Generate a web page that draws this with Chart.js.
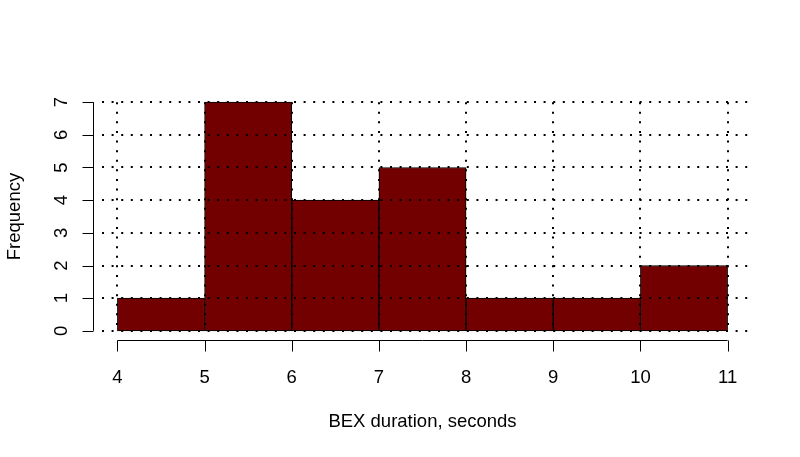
<!DOCTYPE html>
<html>
<head>
    <title>BEX duration histogram</title>
    <script src="https://cdn.jsdelivr.net/npm/chart.js"></script>
    <style>
        body { margin: 0; background: #fff; }
    </style>
</head>
<body>
<canvas id="chart" width="800" height="457"></canvas>
<script>
    // histogram bins (seconds) and counts
    var binStarts = [4, 5, 6, 7, 8, 9, 10];
    var binWidth = 1;
    var counts = [1, 7, 4, 5, 1, 1, 2];
    var xTicks = [4, 5, 6, 7, 8, 9, 10, 11];
    var yTicks = [0, 1, 2, 3, 4, 5, 6, 7];
    var xTitle = 'BEX duration, seconds';
    var yTitle = 'Frequency';

    var FONT = '18.5px "Liberation Sans", Arial, Helvetica, sans-serif';

    function dotted(ctx) {
        ctx.strokeStyle = '#000';
        ctx.lineWidth = 2;
        ctx.lineCap = 'butt';
        ctx.setLineDash([2, 7.6]);
    }

    // R style grid drawn on top of the bars, axes detached from the plot region
    var rAxes = {
        id: 'rAxes',
        afterDatasetsDraw: function(chart) {
            var ctx = chart.ctx, xs = chart.scales.x, ys = chart.scales.y, a = chart.chartArea;
            ctx.save();
            dotted(ctx);
            yTicks.forEach(function(v) {
                var y = Math.round(ys.getPixelForValue(v));
                ctx.beginPath(); ctx.moveTo(a.left + 9, y); ctx.lineTo(a.right, y); ctx.stroke();
            });
            xTicks.forEach(function(v) {
                var x = Math.round(xs.getPixelForValue(v));
                ctx.beginPath();
                ctx.moveTo(x, ys.getPixelForValue(yTicks[yTicks.length - 1]));
                ctx.lineTo(x, ys.getPixelForValue(0));
                ctx.stroke();
            });
            ctx.restore();
        },
        afterDraw: function(chart) {
            var ctx = chart.ctx, xs = chart.scales.x, ys = chart.scales.y, a = chart.chartArea;
            ctx.save();
            ctx.strokeStyle = '#000';
            ctx.lineWidth = 1;
            ctx.fillStyle = '#000';
            ctx.font = FONT;

            // y axis
            var ax = Math.round(a.left) + 0.5;
            ctx.beginPath();
            ctx.moveTo(ax, ys.getPixelForValue(yTicks[0]));
            ctx.lineTo(ax, ys.getPixelForValue(yTicks[yTicks.length - 1]));
            yTicks.forEach(function(v) {
                var y = Math.round(ys.getPixelForValue(v)) + 0.5;
                ctx.moveTo(ax, y); ctx.lineTo(ax - 11, y);
            });
            ctx.stroke();
            ctx.textAlign = 'center';
            ctx.textBaseline = 'middle';
            yTicks.forEach(function(v) {
                ctx.save();
                ctx.translate(62, ys.getPixelForValue(v));
                ctx.rotate(-Math.PI / 2);
                ctx.fillText(String(v), 0, 0);
                ctx.restore();
            });

            // x axis
            var ay = Math.round(a.bottom) + 0.5;
            ctx.beginPath();
            ctx.moveTo(xs.getPixelForValue(xTicks[0]), ay);
            ctx.lineTo(xs.getPixelForValue(xTicks[xTicks.length - 1]), ay);
            xTicks.forEach(function(v) {
                var x = Math.round(xs.getPixelForValue(v)) + 0.5;
                ctx.moveTo(x, ay); ctx.lineTo(x, ay + 11);
            });
            ctx.stroke();
            xTicks.forEach(function(v) {
                ctx.fillText(String(v), xs.getPixelForValue(v), 378);
            });

            // titles
            ctx.fillText(xTitle, (a.left + a.right) / 2, 422);
            ctx.save();
            ctx.translate(15, (a.top + a.bottom) / 2);
            ctx.rotate(-Math.PI / 2);
            ctx.fillText(yTitle, 0, 0);
            ctx.restore();
            ctx.restore();
        }
    };

    var points = binStarts.map(function(s, i) {
        return { x: s + binWidth / 2, y: counts[i] };
    });

    var ctx = document.getElementById('chart').getContext('2d');
    var chart = new Chart(ctx, {
        type: 'bar',
        data: {
            datasets: [{
                label: yTitle,
                data: points,
                backgroundColor: '#730000',
                borderColor: '#000',
                borderWidth: 1,
                borderSkipped: false,
                barPercentage: 1,
                categoryPercentage: 1
            }]
        },
        options: {
            responsive: false,
            animation: false,
            devicePixelRatio: 1,
            layout: { padding: { left: 93, right: 48, top: 93, bottom: 117 } },
            plugins: { legend: { display: false }, tooltip: { enabled: false } },
            scales: {
                x: { type: 'linear', min: 3.72, max: 11.28, offset: false, display: false },
                y: { type: 'linear', min: -0.28, max: 7.28, display: false }
            }
        },
        plugins: [rAxes]
    });
</script>
</body>
</html>
